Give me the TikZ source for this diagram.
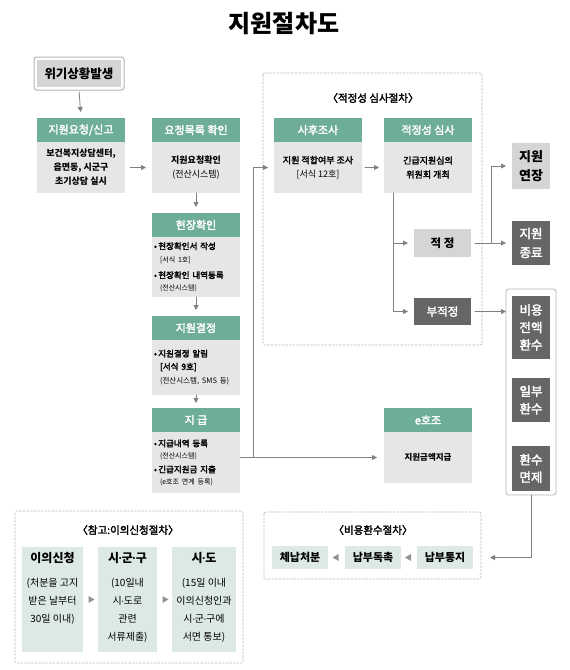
\documentclass[tikz,border=0pt]{standalone}
\usepackage{fontspec}
\setmainfont{Noto Sans CJK KR}
\newfontfamily\medfont{Noto Sans CJK KR}[FakeBold=2.5]
\newfontfamily\latinfont{Liberation Sans}
\usetikzlibrary{arrows.meta,positioning,fit,shapes.geometric,calc}
\definecolor{hgreen}{HTML}{6FAE96}
\definecolor{lgray}{HTML}{E6E6E6}
\definecolor{mgray}{HTML}{D5D5D5}
\definecolor{dgray}{HTML}{666666}
\definecolor{lgreen}{HTML}{DCEAE3}
\definecolor{agray}{HTML}{808080}
\definecolor{fgray}{HTML}{B4B4B4}
\newcommand{\fsz}[2]{\fontsize{#1}{#2}\selectfont}
\newcommand{\mdot}{\kern-0.6pt{\latinfont ·}\kern-0.6pt}

\begin{document}
\begin{tikzpicture}[x=1pt,y=-1pt,line cap=round,line join=round,
  every node/.style={inner sep=0pt,outer sep=0pt},
  hdr/.style={fill=hgreen,text=white,minimum width=88pt,minimum height=24pt,font=\fsz{11}{12}\medfont},
  bodybox/.style={fill=lgray,minimum width=88pt,align=center,font=\fsz{9}{14}},
  listbox/.style={fill=lgray,minimum width=88pt,text width=84pt,align=left,font=\fsz{8.5}{12}},
  darkbox/.style={fill=dgray,text=white,align=center},
  greenbox/.style={fill=lgreen},
  dashframe/.style={draw=fgray,line width=0.6pt,dash pattern=on 2pt off 1.6pt,rounded corners=2pt},
  arr/.style={draw=agray,line width=0.8pt,-{Triangle[length=5pt,width=5pt]}},
  tri/.style={isosceles triangle,isosceles triangle apex angle=60,fill=agray!85,minimum size=6pt}]
  \useasboundingbox (0,0) rectangle (570,670);

  \node[font=\fsz{24}{26}\bfseries] (title) at (284,24) {지원절차도};

  % start of the procedure
  \node[fill=mgray,minimum width=84pt,minimum height=27pt,font=\fsz{12.5}{14}\bfseries] (crisis) at (79,73.5) {위기상황발생};
  \node[fit=(crisis),inner sep=3pt,draw=fgray,line width=1pt,rounded corners=2.5pt] (crisisF) {};

  \node[hdr] (reqH) at (81,130) {지원요청/신고};
  \node[bodybox,minimum height=51pt,below=0pt of reqH,font=\fsz{9}{14}\bfseries] (reqB)
    {보건복지상담센터,\\읍면동, 시군구\\초기상담 실시};

  % main column
  \node[hdr] (listH) at (196,130) {요청목록 확인};
  \node[bodybox,minimum height=51pt,below=0pt of listH] (listB) {\textbf{지원요청확인}\\(전산시스템)};

  \node[hdr] (siteH) at (196,225) {현장확인};
  \node[listbox,minimum height=60pt,below=0pt of siteH] (siteB)
    {{\medfont •\,현장확인서 작성}\\[1pt] \hspace*{6pt}{\fsz{7}{9}[서식 1호]}\\[4pt]
     {\medfont •\,현장확인 내역등록}\\ \hspace*{6pt}{\fsz{7}{9}(전산시스템)}};

  \node[hdr] (decH) at (196,328) {지원결정};
  \node[listbox,minimum height=55pt,below=0pt of decH] (decB)
    {{\medfont •\,지원결정 알림}\\[1pt] \hspace*{6pt}{\medfont [서식 9호]}\\[2pt]
     \hspace*{6pt}{\fsz{7.5}{9}(전산시스템, SMS 등)}};

  \node[hdr] (payH) at (196,420) {지 급};
  \node[listbox,minimum height=61pt,below=0pt of payH,font=\fsz{8.5}{11.5}] (payB)
    {{\medfont •\,지급내역 등록}\\ \hspace*{6pt}{\fsz{7}{9}(전산시스템)}\\[3pt]
     {\medfont •\,긴급지원금 지출}\\ \hspace*{6pt}{\fsz{7}{9}(e호조 연계 등록)}};

  % review procedure
  \draw[dashframe] (263,73) rectangle (482,345);
  \node[font=\fsz{10.5}{12}\medfont] (revT) at (373,98) {〈적정성 심사절차〉};

  \node[hdr] (postH) at (318,130) {사후조사};
  \node[bodybox,minimum height=51pt,below=0pt of postH] (postB) {{\medfont 지원 적합여부 조사}\\{}[서식 12호]};

  \node[hdr] (revH) at (428,130) {적정성 심사};
  \node[bodybox,minimum height=51pt,below=0pt of revH,font=\fsz{9}{14}\medfont] (revB) {긴급지원심의\\위원회 개최};

  \node[fill=mgray,minimum width=57pt,minimum height=28pt,font=\fsz{11.5}{12}\bfseries] (fit) at (442.5,243) {적 정};
  \node[darkbox,minimum width=57pt,minimum height=27pt,font=\fsz{11.5}{12}\medfont] (unfit) at (442.5,311.5) {부적정};

  % results
  \node[fill=mgray,minimum width=38pt,minimum height=46pt,align=center,font=\fsz{13}{19}\bfseries] (ext) at (531,166) {지원\\연장};
  \node[darkbox,minimum width=38pt,minimum height=44pt,font=\fsz{12.5}{19}\medfont] (term) at (531,243) {지원\\종료};

  \node[draw=fgray,line width=0.8pt,rounded corners=2.5pt,minimum width=50pt,minimum height=206pt] (refF) at (531,392) {};
  \node[darkbox,minimum width=38pt,minimum height=63pt,font=\fsz{12.5}{17.5}\medfont] (full) at (531,327.5) {비용\\전액\\환수};
  \node[darkbox,minimum width=38pt,minimum height=44pt,font=\fsz{12.5}{17.5}\medfont] (part) at (531,400) {일부\\환수};
  \node[darkbox,minimum width=38pt,minimum height=45pt,font=\fsz{12.5}{17.5}\medfont] (waive) at (531,468.5) {환수\\면제};

  \node[hdr] (eH) at (428,420) {e호조};
  \node[bodybox,minimum height=51pt,below=0pt of eH,font=\fsz{8.5}{12}\bfseries] (eB) {지원금액지급};

  % recovery procedure
  \draw[dashframe] (264,512) rectangle (481,579);
  \node[font=\fsz{10.5}{12}\medfont] (recT) at (373,530) {〈비용환수절차〉};
  \node[greenbox,minimum width=56pt,minimum height=23pt,font=\fsz{11}{12}\bfseries] (seize) at (300,557.5) {체납처분};
  \node[greenbox,minimum width=56pt,minimum height=23pt,font=\fsz{11}{12}\bfseries] (urge) at (373,557.5) {납부독촉};
  \node[greenbox,minimum width=56pt,minimum height=23pt,font=\fsz{11}{12}\bfseries] (notice) at (445,557.5) {납부통지};
  \node[tri,shape border rotate=180] (tr1) at ($(seize.east)!0.5!(urge.west)$) {};
  \node[tri,shape border rotate=180] (tr2) at ($(urge.east)!0.5!(notice.west)$) {};

  % objection procedure
  \draw[dashframe] (15,511) rectangle (243,663);
  \node[font=\fsz{10.5}{12}\medfont] (objT) at (128,530) {〈참고:이의신청절차〉};
  \node[greenbox,minimum width=61pt,minimum height=105pt] (appl) at (52.5,599.5) {};
  \node[greenbox,minimum width=59pt,minimum height=105pt] (sgg) at (127.5,599.5) {};
  \node[greenbox,minimum width=64pt,minimum height=105pt] (sido) at (204,599.5) {};
  \node[anchor=north,align=center,font=\fsz{10}{18}] (applT) at (appl.north |- 0,552)
    {{\fsz{12}{14}\bfseries 이의신청}\\[6pt](처분을 고지\\받은 날부터\\30일 이내)};
  \node[anchor=north,align=center,font=\fsz{10}{18}] (sggT) at (sgg.north |- 0,552)
    {{\fsz{12}{14}\bfseries 시\mdot 군\mdot 구}\\[6pt](10일내\\시\mdot 도로\\관련\\서류제출)};
  \node[anchor=north,align=center,font=\fsz{10}{18}] (sidoT) at (sido.north |- 0,552)
    {{\fsz{12}{14}\bfseries 시\mdot 도}\\[6pt](15일 이내\\이의신청인과\\시\mdot 군\mdot 구에\\서면 통보)};
  \node[tri] (tr3) at ($(appl.east)!0.5!(sgg.west)$) {};
  \node[tri] (tr4) at ($(sgg.east)!0.5!(sido.west)$) {};

  % connectors
  \draw[arr,shorten <=2pt,shorten >=6pt] (crisisF.south) -- (reqH.north);
  \draw[arr,shorten <=5pt,shorten >=6pt] (reqB.east) -- (listB.west);
  \draw[arr,shorten >=6pt] (listB.south) -- (siteH.north);
  \draw[arr,shorten >=6pt] (siteB.south) -- (decH.north);
  \draw[arr,shorten >=5pt] (decB.south) -- (payH.north);
  \draw[arr,shorten >=7pt] (eB.west -| payB.east) -- (eB.west);
  \coordinate (jn) at (253,457.5);
  \draw[arr,shorten >=6pt] (jn) |- (postB.west);
  \draw[arr,shorten <=3pt,shorten >=5pt] (postB.east) -- (revB.west);
  \coordinate (rv) at ([xshift=9pt]revB.south west);
  \draw[arr,shorten >=6pt] (rv) |- (fit.west);
  \draw[arr,shorten >=6pt] (rv) |- (unfit.west);
  \draw[arr,shorten <=4pt,shorten >=6pt] (fit.east) -- (term.west);
  \coordinate (fb) at ($(fit.east)!0.5!(term.west)$);
  \draw[arr,shorten >=6pt] (fb) |- (ext.west);
  \draw[arr,shorten <=4pt] (unfit.east) -- (unfit.east -| refF.west);
  \draw[arr,shorten >=17pt] (refF.south) |- (notice.east);
\end{tikzpicture}
\end{document}
